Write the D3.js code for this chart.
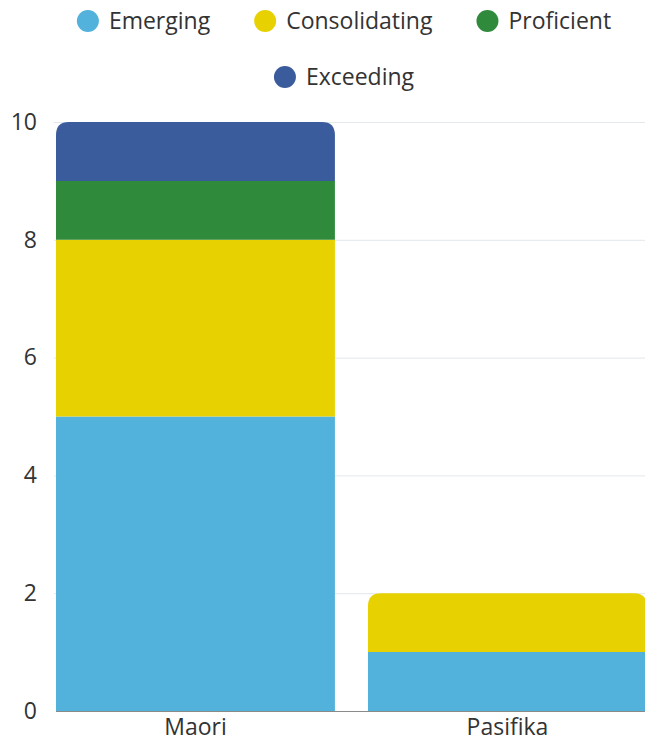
<!DOCTYPE html>
<html>
<head>
<meta charset="utf-8">
<script src="https://cdn.jsdelivr.net/npm/d3@7"></script>
<style>
  html, body { margin: 0; padding: 0; background: #fff; }
  svg { display: block; font-family: "Open Sans", "Noto Sans", sans-serif; }
</style>
</head>
<body>
<svg id="chart"></svg>
<script>
const categories = ['Maori', 'Pasifika'];
const series = ['Emerging', 'Consolidating', 'Proficient', 'Exceeding'];
const emerging = [5, 1];
const consolidating = [3, 1];
const proficient = [1, 0];
const exceeding = [1, 0];
const yTicks = [0, 2, 4, 6, 8, 10];
const colors = ['#52b2dc', '#e8d100', '#2f8a3c', '#3b5c9c'];

const width = 645, height = 743;
// the right edge of the original chart is cut off, so the range runs past the page
const margin = { top: 122, right: -17.5, bottom: 32, left: 40.4 };
const fontSize = 23;

const svg = d3.select('#chart').attr('width', width).attr('height', height);

const rows = categories.map((c, i) => ({
  cat: c,
  Emerging: emerging[i],
  Consolidating: consolidating[i],
  Proficient: proficient[i],
  Exceeding: exceeding[i]
}));
const stacked = d3.stack().keys(series)(rows);

const x = d3.scaleBand()
  .domain(categories)
  .range([margin.left, width - margin.right])
  .paddingInner(0.106)
  .paddingOuter(0.05);
const y = d3.scaleLinear()
  .domain([0, 10])
  .range([height - margin.bottom, margin.top]);

// grid lines
svg.append('g')
  .selectAll('line')
  .data(yTicks.filter(d => d > 0))
  .enter()
  .append('line')
  .attr('x1', x(categories[0]) - 2)
  .attr('x2', width)
  .attr('y1', d => y(d) + 0.5)
  .attr('y2', d => y(d) + 0.5)
  .attr('stroke', '#e2e8ec')
  .attr('stroke-width', 1);

// baseline
svg.append('line')
  .attr('x1', x(categories[0]))
  .attr('x2', width)
  .attr('y1', y(0) + 0.5)
  .attr('y2', y(0) + 0.5)
  .attr('stroke', '#8a8a8a');

// top segment per bar gets rounded corners
const topKey = {};
rows.forEach(r => {
  let last = null;
  series.forEach(s => { if (r[s] > 0) last = s; });
  topKey[r.cat] = last;
});

function roundTop(x0, y0, w, h, r) {
  return 'M' + x0 + ',' + (y0 + h) +
    'V' + (y0 + r) +
    'Q' + x0 + ',' + y0 + ' ' + (x0 + r) + ',' + y0 +
    'H' + (x0 + w - r) +
    'Q' + (x0 + w) + ',' + y0 + ' ' + (x0 + w) + ',' + (y0 + r) +
    'V' + (y0 + h) + 'Z';
}

svg.append('g')
  .selectAll('g')
  .data(stacked)
  .enter()
  .append('g')
  .attr('fill', (d, i) => colors[i])
  .each(function(layer) {
    d3.select(this).selectAll('path')
      .data(layer.filter(d => d[1] - d[0] > 0))
      .enter()
      .append('path')
      .attr('d', d => {
        const x0 = x(d.data.cat), w = x.bandwidth();
        const y0 = y(d[1]), h = y(d[0]) - y(d[1]);
        const r = topKey[d.data.cat] === layer.key ? 13 : 0;
        return roundTop(x0, y0, w, h, r);
      });
  });

// y axis
const yAxis = svg.append('g')
  .attr('transform', 'translate(37,0)')
  .call(d3.axisLeft(y).tickValues(yTicks).tickSize(0).tickPadding(0));
yAxis.select('.domain').remove();
yAxis.selectAll('text')
  .attr('font-size', fontSize)
  .attr('fill', '#333')
  .attr('font-family', '"Open Sans", sans-serif');

// x axis
const xAxis = svg.append('g')
  .attr('transform', 'translate(0,' + y(0) + ')')
  .call(d3.axisBottom(x).tickSize(0).tickPadding(8));
xAxis.select('.domain').remove();
xAxis.selectAll('text')
  .attr('font-size', fontSize)
  .attr('fill', '#333')
  .attr('font-family', '"Open Sans", sans-serif');

// legend (two centered rows)
const legendRows = [series.slice(0, 3), series.slice(3)];
const legendY = [21, 77];
const legendCenter = 344;
const itemGap = 44;
legendRows.forEach((items, ri) => {
  const g = svg.append('g');
  let cx = 0;
  items.forEach(s => {
    const item = g.append('g').attr('transform', 'translate(' + cx + ',0)');
    item.append('circle')
      .attr('cx', 11)
      .attr('cy', 0)
      .attr('r', 11)
      .attr('fill', colors[series.indexOf(s)]);
    const t = item.append('text')
      .attr('x', 32)
      .attr('y', 0)
      .attr('dy', '0.35em')
      .attr('font-size', fontSize)
      .attr('fill', '#333')
      .text(s);
    cx += 32 + t.node().getComputedTextLength() + itemGap;
  });
  const total = cx - itemGap;
  g.attr('transform', 'translate(' + (legendCenter - total / 2) + ',' + legendY[ri] + ')');
});
</script>
</body>
</html>
